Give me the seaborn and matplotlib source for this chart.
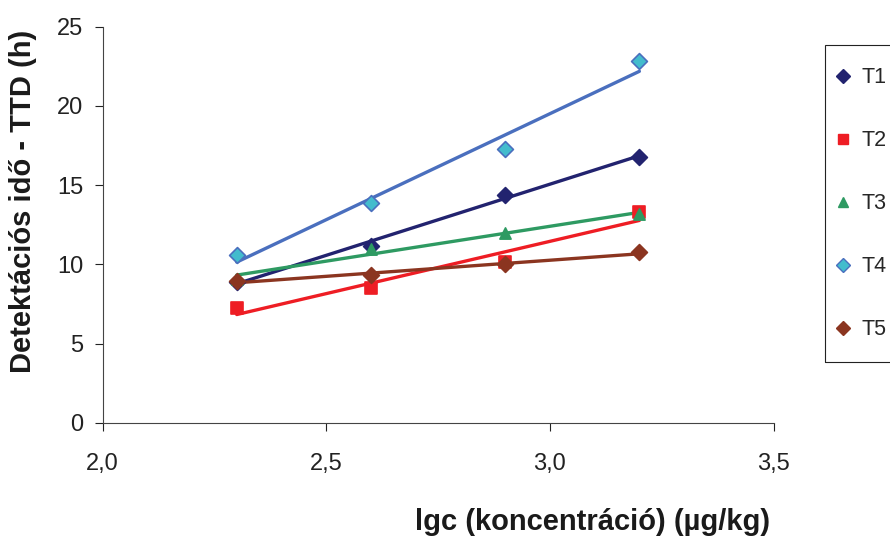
from matplotlib import pyplot as plt
from matplotlib.lines import Line2D
from matplotlib.patches import Rectangle
from matplotlib.ticker import FuncFormatter
import seaborn as sns
import pandas as pd

lgc = [2.3, 2.6, 2.9, 3.2]
T1 = [8.9, 11.15, 14.4, 16.8]
T2 = [7.25, 8.5, 10.15, 13.3]
T3 = [9.1, 10.95, 12.0, 13.15]
T4 = [10.6, 13.9, 17.3, 22.85]
T5 = [8.95, 9.3, 10.0, 10.75]
series = ['T1', 'T2', 'T3', 'T4', 'T5']

df = pd.DataFrame({'lgc': lgc * 5,
                   'ttd': T1 + T2 + T3 + T4 + T5,
                   'series': [s for s in series for _ in lgc]})

# marker, marker face, marker edge, trend line colour
styles = {'T1': ('D', '#22236F', '#22236F', '#22236F'),
          'T2': ('s', '#EE1D24', '#EE1D24', '#EE1D24'),
          'T3': ('^', '#2E9A62', '#2E9A62', '#2E9A62'),
          'T4': ('D', '#43BCCD', '#4A6FBE', '#4A6FBE'),
          'T5': ('D', '#8B3520', '#8B3520', '#8B3520')}

sns.set_style('ticks')
plt.rcParams['font.family'] = ['Liberation Sans', 'DejaVu Sans']

fig = plt.figure(figsize=(8.9, 5.4), dpi=100)
ax = fig.add_axes([0.1152, 0.2172, 0.754, 0.7333])

handles = []
for s in series:
    m, fc, ec, lc = styles[s]
    sub = df[df['series'] == s]
    sns.regplot(data=sub, x='lgc', y='ttd', ax=ax, ci=None, marker=m,
                scatter_kws={'s': 65, 'color': fc, 'edgecolors': ec, 'linewidths': 1.2, 'alpha': 1, 'zorder': 3},
                line_kws={'color': lc, 'lw': 2.4, 'zorder': 2})
    handles.append(Line2D([], [], marker=m, ls='none', markersize=7 if m != 's' else 6.5,
                          markerfacecolor=fc, markeredgecolor=ec, label=s))

ax.set_xlim(2.0, 3.5)
ax.set_ylim(0, 25)
ax.set_xticks([2.0, 2.5, 3.0, 3.5])
ax.set_yticks([0, 5, 10, 15, 20, 25])
ax.xaxis.set_major_formatter(FuncFormatter(lambda v, p: ('%.1f' % v).replace('.', ',')))
ax.tick_params(labelsize=17, length=6, width=0.8, colors='#222222')
ax.tick_params(axis='x', pad=16)
ax.tick_params(axis='y', pad=8)
for sp in ['left', 'bottom']:
    ax.spines[sp].set_linewidth(0.8)
    ax.spines[sp].set_color('#444444')
sns.despine(ax=ax)

ax.set_xlabel('lgc (koncentráció) (µg/kg)', fontsize=21, fontweight='bold', color='#1a1a1a')
ax.xaxis.set_label_coords(0.73, -0.215)
ax.set_ylabel('Detektációs idő - TTD (h)', fontsize=21, fontweight='bold', color='#1a1a1a')
ax.yaxis.set_label_coords(-0.098, 0.5586)

# legend frame drawn separately, it runs off the right edge like the original
fig.patches.append(Rectangle((0.927, 0.3296), 0.1, 0.587, transform=fig.transFigure,
                             fill=False, edgecolor='#222222', linewidth=0.8, clip_on=False))
fig.legend(handles=handles, loc='center left', bbox_to_anchor=(0.9375, 0.623),
           fontsize=15.5, frameon=False, labelspacing=1.95, borderpad=0,
           handletextpad=0.45, handlelength=0.8, borderaxespad=0)

fig.savefig('out.png', dpi=100)
